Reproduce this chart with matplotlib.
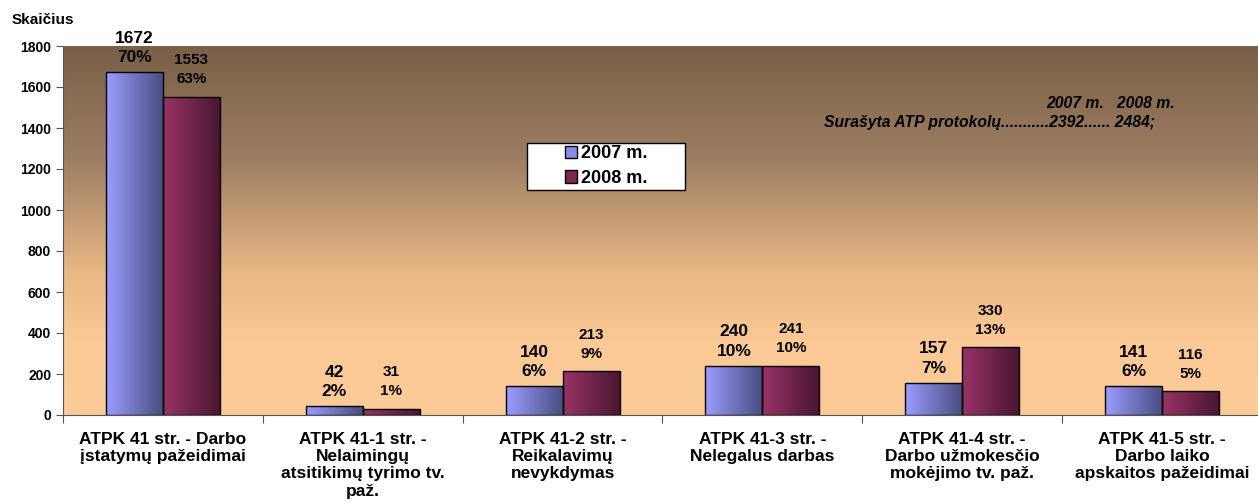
import numpy as np
import matplotlib
matplotlib.use("Agg")
import matplotlib.pyplot as plt
from matplotlib.colors import LinearSegmentedColormap
from matplotlib.patches import Rectangle

categories = [
    "ATPK 41 str. - Darbo\nįstatymų pažeidimai",
    "ATPK 41-1 str. -\nNelaimingų\natsitikimų tyrimo tv.\npaž.",
    "ATPK 41-2 str. -\nReikalavimų\nnevykdymas",
    "ATPK 41-3 str. -\nNelegalus darbas",
    "ATPK 41-4 str. -\nDarbo užmokesčio\nmokėjimo tv. paž.",
    "ATPK 41-5 str. -\nDarbo laiko\napskaitos pažeidimai",
]
v2007 = [1672, 42, 140, 240, 157, 141]
v2008 = [1553, 31, 213, 241, 330, 116]
p2007 = ["70%", "2%", "6%", "10%", "7%", "6%"]
p2008 = ["63%", "1%", "9%", "10%", "13%", "5%"]
series = ["2007 m.", "2008 m."]

plt.rcParams['font.family'] = ['Liberation Sans', 'DejaVu Sans']
plt.rcParams['font.weight'] = 'bold'

W, H = 1258, 503
fig = plt.figure(figsize=(W/100, H/100), dpi=100)
ax = fig.add_axes([63/W, 1 - 415/H, (1262 - 63)/W, (415 - 46)/H])

x = np.arange(len(categories))
w = 0.285

# background gradient (top dark brown -> bottom peach)
bg = LinearSegmentedColormap.from_list("bg", [(0, "#785f47"), (0.3, "#9c7d61"), (0.62, "#e9b885"), (0.8, "#fac996"), (1, "#fccb97")])
grad = np.linspace(0, 1, 256).reshape(-1, 1)
ax.imshow(grad, cmap=bg, aspect="auto", extent=[-0.5, 5.5, 0, 1800], origin="upper", zorder=0)

b1 = ax.bar(x - w/2, v2007, w, color="#9999ff", edgecolor="black", linewidth=1, zorder=3)
b2 = ax.bar(x + w/2, v2008, w, color="#993366", edgecolor="black", linewidth=1, zorder=3)

hgrad = np.linspace(0, 1, 64).reshape(1, -1)
cm1 = LinearSegmentedColormap.from_list("c1", ["#9c9cff", "#4a4e82"])
cm2 = LinearSegmentedColormap.from_list("c2", ["#993366", "#4a1632"])
for bars, cm in ((b1, cm1), (b2, cm2)):
    for r in bars:
        x0, y0 = r.get_x(), r.get_y()
        im = ax.imshow(hgrad, cmap=cm, aspect="auto",
                       extent=[x0, x0 + r.get_width(), y0, y0 + r.get_height()], zorder=2)
        im.set_clip_path(r)
        r.set_facecolor("none")

for i in range(len(categories)):
    ax.text(x[i] - w/2, v2007[i] + 35, f"{v2007[i]}\n{p2007[i]}", ha="center", va="bottom",
            fontsize=12.5, fontweight="bold", linespacing=1.35, zorder=5)
    ax.text(x[i] + w/2, v2008[i] + 50, f"{v2008[i]}\n{p2008[i]}", ha="center", va="bottom",
            fontsize=11, fontweight="bold", linespacing=1.45, zorder=5)

ax.set_xlim(-0.5, 5.5)
ax.set_ylim(0, 1800)
ax.set_yticks(range(0, 1801, 200))
ax.set_xticks(np.arange(-0.5, 5.6, 1))
ax.set_xticklabels([])
ax.set_xticks(x, minor=True)
ax.set_xticklabels(categories, minor=True, fontsize=12.5, fontweight="bold", linespacing=1.2)
ax.tick_params(axis="x", which="minor", length=0, pad=12)
ax.tick_params(axis="x", which="major", length=6, direction="out", color="#555555")
ax.tick_params(axis="y", length=5, direction="out", labelsize=10, color="#555555")
for lab in ax.get_yticklabels():
    lab.set_fontweight("bold")
for s in ["top", "right"]:
    ax.spines[s].set_visible(False)
ax.spines["left"].set_color("#555555")
ax.spines["bottom"].set_color("#555555")

fig.text(12/W, 1 - 20/H, "Skaičius", fontsize=11, fontweight="bold", va="center")

# legend box
ax.add_patch(Rectangle((527/W, 1 - 190/H), 158/W, 47/H, transform=fig.transFigure,
                       facecolor="white", edgecolor="black", linewidth=1, zorder=6, clip_on=False))
leg = ax.legend([b1, b2], series, loc="center", bbox_to_anchor=(606/W, 1 - 166/H),
                bbox_transform=fig.transFigure, frameon=False,
                prop={"weight": "bold", "size": 13}, handlelength=0.7, handleheight=0.7,
                handletextpad=0.2, borderpad=0, labelspacing=0.4)
leg.set_zorder(7)
leg.legend_handles[0].set_facecolor("#8c8ce6")
leg.legend_handles[1].set_facecolor("#7a2850")
for h in leg.legend_handles:
    h.set_edgecolor("black")

fig.text(1175/W, 1 - 104/H, "2007 m.   2008 m.", fontsize=11.3, fontweight="bold", style="italic", ha="right", va="center")
fig.text(1155/W, 1 - 122/H, "Surašyta ATP protokolų...........2392...... 2484;", fontsize=11.3,
         fontweight="bold", style="italic", ha="right", va="center")

fig.savefig("out.png", dpi=100)
